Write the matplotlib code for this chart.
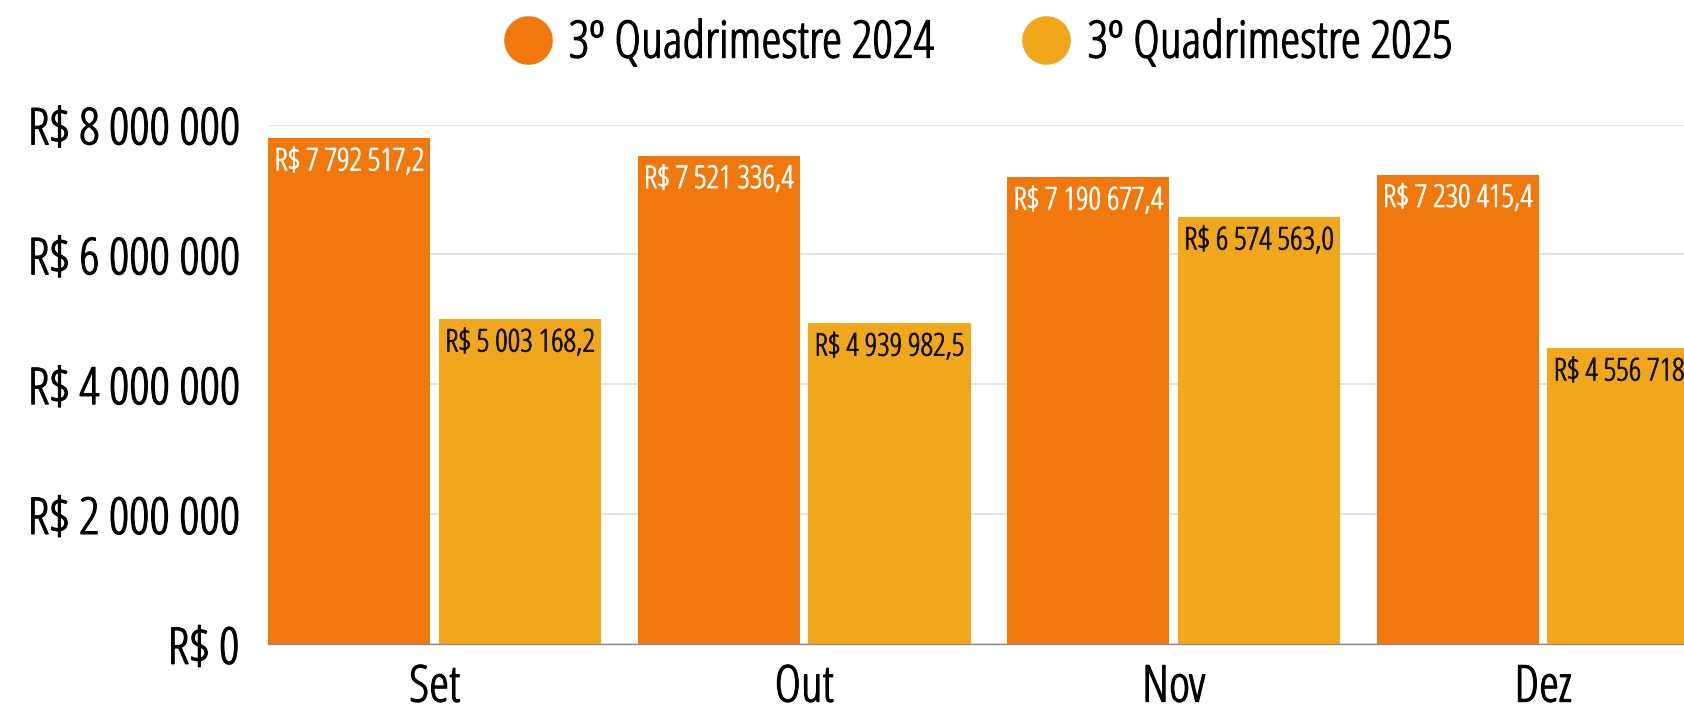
import matplotlib
matplotlib.use("Agg")
import matplotlib.pyplot as plt
import matplotlib.patheffects as pe
import numpy as np
from matplotlib.lines import Line2D
from matplotlib.ticker import FuncFormatter

months = ["Set", "Out", "Nov", "Dez"]
series_names = ["3º Quadrimestre 2024", "3º Quadrimestre 2025"]
values_2024 = [7792517.2, 7521336.4, 7190677.4, 7230415.4]
values_2025 = [5003168.2, 4939982.5, 6574563.0, 4556718.0]
y_ticks = [0, 2000000, 4000000, 6000000, 8000000]

ORANGE = "#F1780D"
YELLOW = "#F1A71C"

plt.rcParams["font.family"] = ["Open Sans", "DejaVu Sans"]
plt.rcParams["font.stretch"] = "condensed"
plt.rcParams["font.weight"] = 300


def brl(v, decimals=0):
    s = f"{v:,.{decimals}f}".replace(",", " ").replace(".", ",")
    return f"R$ {s}"


def thicken(txt, lw):
    # only the light cut is installed, so fatten the glyphs a little
    txt.set_path_effects([pe.withStroke(linewidth=lw, foreground=txt.get_color())])


fig = plt.figure(figsize=(16.84, 7.07), dpi=100)
# plot area runs past the right edge, like the source
ax = fig.add_axes([0.1594, 0.0891, 0.8777, 0.7347])

x = np.arange(len(months))
bw = 0.439
off = bw / 2 + 0.0115
b1 = ax.bar(x - off, values_2024, bw, color=ORANGE, zorder=2)
b2 = ax.bar(x + off, values_2025, bw, color=YELLOW, zorder=2)

for bars, vals, col in [(b1, values_2024, "white"), (b2, values_2025, "#111111")]:
    for rect, v in zip(bars, vals):
        t = ax.annotate(brl(v, 1), (rect.get_x() + rect.get_width() / 2, v),
                        xytext=(0, -6), textcoords="offset points",
                        ha="center", va="top", fontsize=22.5, color=col, zorder=3,
                        annotation_clip=False)
        thicken(t, 0.6)

ax.set_xlim(-0.45, 3.55)
ax.set_ylim(0, 8000000)
ax.set_yticks(y_ticks)
ax.yaxis.set_major_formatter(FuncFormatter(lambda v, p: brl(v)))
ax.set_xticks(x)
ax.set_xticklabels(months)
ax.tick_params(axis="y", length=0, pad=21, labelsize=36.5)
ax.tick_params(axis="x", length=0, pad=13, labelsize=36.5)
ax.grid(axis="y", color="#DADADA", linewidth=1.1, zorder=0)
ax.set_axisbelow(True)
for s in ["top", "right", "left"]:
    ax.spines[s].set_visible(False)
ax.spines["bottom"].set_color("#8C8C8C")
ax.spines["bottom"].set_linewidth(1.0)
ax.spines["bottom"].set_zorder(3)

for lbl in ax.get_xticklabels() + ax.get_yticklabels():
    thicken(lbl, 0.9)

handles = [Line2D([], [], linestyle="none", marker="o", markersize=34,
                  markerfacecolor=c, markeredgecolor=c) for c in (ORANGE, YELLOW)]
leg = fig.legend(handles, series_names, loc="center left", bbox_to_anchor=(0.298, 0.938),
                 ncol=2, frameon=False, fontsize=37, borderpad=0, borderaxespad=0,
                 handlelength=1.0, handletextpad=0.3, columnspacing=1.7)
for t in leg.get_texts():
    thicken(t, 0.9)

fig.savefig("out.png", dpi=100)
